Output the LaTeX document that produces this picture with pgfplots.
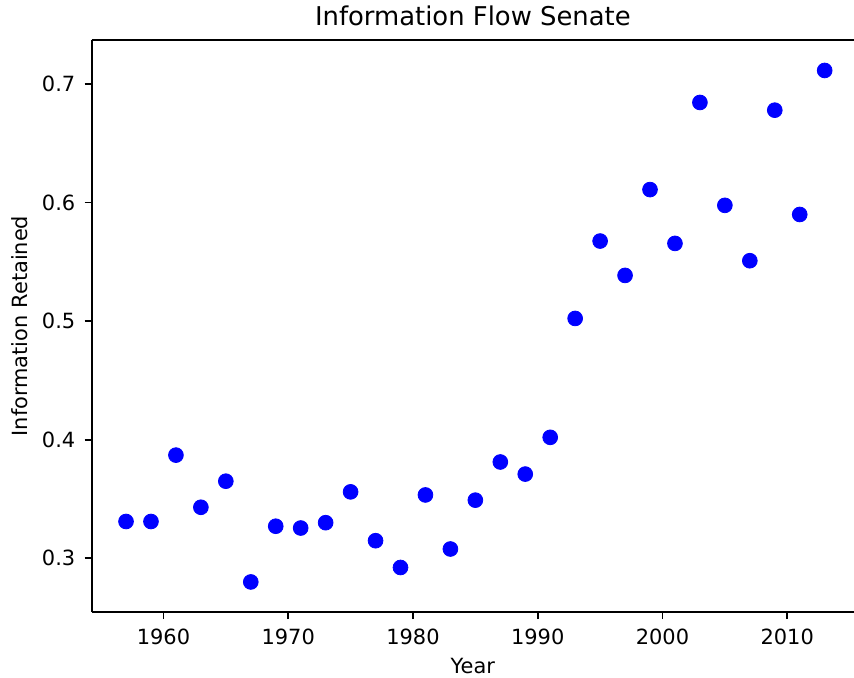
\documentclass[border=0pt]{standalone}
\usepackage{pgfplots}
\pgfplotsset{compat=1.18}
\usepackage{fontspec}
\setmainfont{DejaVu Sans}
\begin{document}
\begin{tikzpicture}
\begin{axis}[
  scale only axis,
  width=371.5pt, height=278.8pt,
  xmin=1954.25, xmax=2015.35,
  ymin=0.2546, ymax=0.7372,
  axis x line=box, axis y line=left,
  axis line style={-, line width=0.8pt, black},
  xtick={1960,1970,...,2010},
  ytick={0.3,0.4,0.5,0.6,0.7},
  xtick pos=lower, ytick pos=left,
  tick align=outside,
  major tick length=3.5pt,
  every tick/.style={line width=0.8pt, black},
  /pgf/number format/assume math mode=true,
  /pgf/number format/set thousands separator={},
  y tick label style={/pgf/number format/fixed, /pgf/number format/fixed zerofill, /pgf/number format/precision=1},
  tick label style={font=\fontsize{10.2}{12}\selectfont},
  xticklabel style={yshift=-1pt},
  yticklabel style={xshift=-1pt},
  title={Information Flow Senate},
  title style={font=\fontsize{12.6}{14}\selectfont, yshift=-2.5pt},
  xlabel={Year},
  ylabel={Information Retained},
  label style={font=\fontsize{10.2}{12}\selectfont},
  clip=false,
]
\addplot[only marks, mark=*, mark size=3.6pt, color={rgb,255:red,0;green,0;blue,255}]
  coordinates {
  (1957,0.331) (1959,0.331) (1961,0.387) (1963,0.343) (1965,0.365)
  (1967,0.280) (1969,0.327) (1971,0.3255) (1973,0.330) (1975,0.356)
  (1977,0.3148) (1979,0.2922) (1981,0.3534) (1983,0.3078) (1985,0.349)
  (1987,0.3812) (1989,0.371) (1991,0.402) (1993,0.5023) (1995,0.5676)
  (1997,0.5386) (1999,0.611) (2001,0.5656) (2003,0.6845) (2005,0.5977)
  (2007,0.551) (2009,0.678) (2011,0.590) (2013,0.7115)
  };
\end{axis}
\pgfresetboundingbox
\path ([xshift=-44.7pt, yshift=-32.1pt]current axis.south west)
  rectangle ([yshift=19.5pt]current axis.north east);
\end{tikzpicture}
\end{document}
